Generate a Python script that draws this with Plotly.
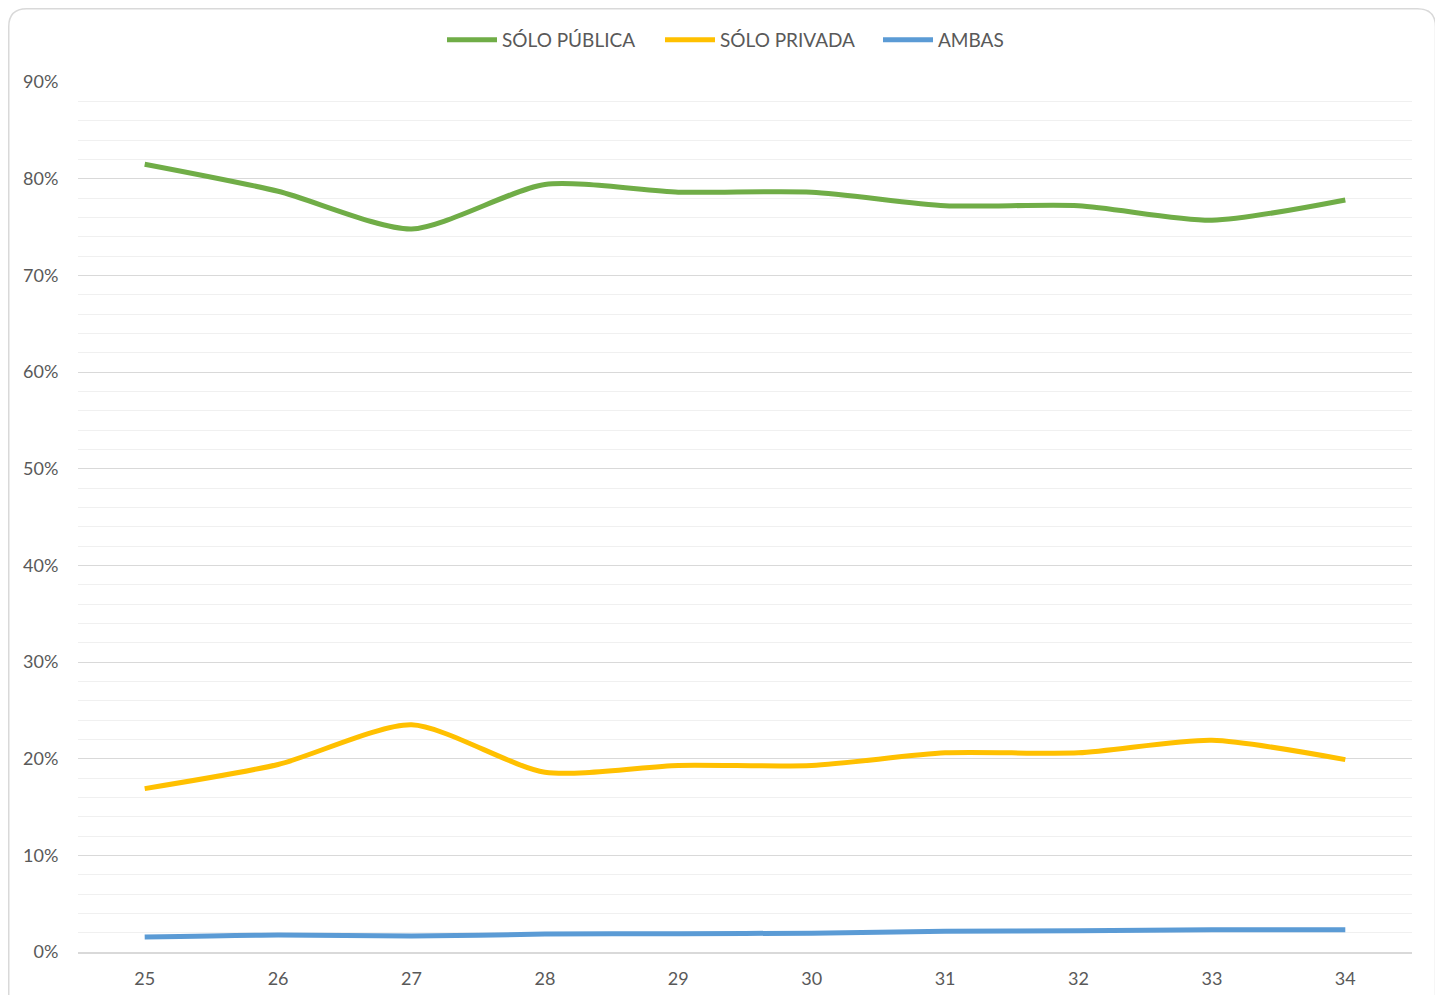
import plotly.graph_objects as go

categories = ["25", "26", "27", "28", "29", "30", "31", "32", "33", "34"]
solo_publica = [0.815, 0.787, 0.748, 0.794, 0.786, 0.786, 0.772, 0.772, 0.757, 0.778]
solo_privada = [0.169, 0.194, 0.235, 0.186, 0.193, 0.193, 0.206, 0.206, 0.219, 0.199]
ambas = [0.0155, 0.0175, 0.0165, 0.0185, 0.019, 0.0195, 0.0215, 0.022, 0.023, 0.023]

series = [
    ("SÓLO PÚBLICA", solo_publica, "#70ad47"),
    ("SÓLO PRIVADA", solo_privada, "#ffc000"),
    ("AMBAS", ambas, "#5b9bd5"),
]

FONT = "Lato, 'Open Sans', sans-serif"

fig = go.Figure()
for name, vals, color in series:
    fig.add_trace(go.Scatter(
        x=categories, y=vals, name=name, mode="lines",
        line=dict(color=color, width=5, shape="spline", smoothing=0.7),
    ))

# page has an 8px body margin, so figure coordinates = screen - 8
W, H = 1435, 987
L, R, T, B = 70, 1404, 74, 944

def px(x):
    return (x - L) / (R - L)

def py(y):
    return (B - y) / (B - T)

# rounded chart border
x0, x1, y0, y1, r = 0.75, 1427.5, 0.75, 1010, 18
path = (
    f"M {px(x0)} {py(y1)} L {px(x0)} {py(y0 + r)} "
    f"Q {px(x0)} {py(y0)} {px(x0 + r)} {py(y0)} "
    f"L {px(x1 - r)} {py(y0)} "
    f"Q {px(x1)} {py(y0)} {px(x1)} {py(y0 + r)} "
    f"L {px(x1)} {py(y1)}"
)
fig.add_shape(type="path", xref="paper", yref="paper", path=path,
              line=dict(color="#d9d9d9", width=1.5), layer="below")

fig.update_layout(
    width=W, height=H,
    margin=dict(l=L, r=W - R, t=T, b=H - B, autoexpand=False),
    paper_bgcolor="white", plot_bgcolor="white",
    font=dict(family=FONT, color="#595959", size=18),
    showlegend=True,
    legend=dict(
        orientation="h", xref="container", yref="container",
        x=(442 - 8) / W, xanchor="left", y=1 - 32 / H, yanchor="middle",
        font=dict(size=19, color="#595959"), itemwidth=50, entrywidth=153,
        bgcolor="rgba(0,0,0,0)",
    ),
    xaxis=dict(
        type="category", range=[-0.5, len(categories) - 0.5],
        showgrid=False, showline=True, automargin=False,
        linecolor="#d9d9d9", linewidth=1.5, ticks="outside", ticklen=10,
        tickcolor="rgba(0,0,0,0)", tickfont=dict(size=18, color="#595959"),
        zeroline=False,
    ),
    yaxis=dict(
        range=[0, 0.9], dtick=0.1, tick0=0, tickformat=".0%",
        showgrid=True, gridcolor="#d9d9d9", gridwidth=1.3, automargin=False,
        minor=dict(dtick=0.02, showgrid=True, gridcolor="#f0f0f0", gridwidth=1.3),
        zeroline=False, showline=False, ticks="outside", ticklen=15,
        tickcolor="rgba(0,0,0,0)", tickfont=dict(size=18, color="#595959"),
    ),
)

fig.write_html("out.html")
